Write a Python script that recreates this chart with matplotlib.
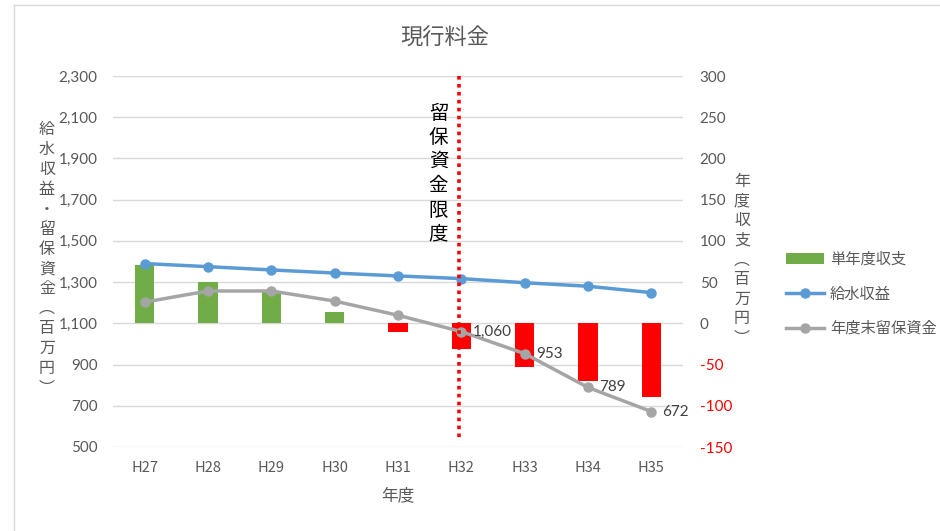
import matplotlib
matplotlib.use("Agg")
import matplotlib.pyplot as plt
from matplotlib.lines import Line2D
from matplotlib.patches import Patch

plt.rcParams['font.family'] = ['Lato', 'Noto Sans CJK JP', 'DejaVu Sans']

# ---- data ----
years = ["H27", "H28", "H29", "H30", "H31", "H32", "H33", "H34", "H35"]
balance = [71, 50, 38, 14, -10, -31, -53, -70, -89]          # 単年度収支 (right axis)
revenue = [1390, 1375, 1359, 1344, 1330, 1317, 1297, 1280, 1249]  # 給水収益
reserve = [1203, 1257, 1257, 1208, 1139, 1060, 953, 789, 672]     # 年度末留保資金
labelled = [5, 6, 7, 8]   # indices of reserve points with data labels
left_ticks = [500, 700, 900, 1100, 1300, 1500, 1700, 1900, 2100, 2300]
right_ticks = [-150, -100, -50, 0, 50, 100, 150, 200, 250, 300]
limit_idx = 5             # 留保資金限度 at H32

GRAY_TXT = "#595959"
GREEN = "#70AD47"
RED = "#FF0000"
BLUE = "#5B9BD5"
GRAY = "#A5A5A5"
CJK = ['Noto Sans CJK JP']

fig = plt.figure(figsize=(9.4, 5.31), dpi=100)
ax = fig.add_axes([113/940, 1-447/531, 570/940, 371/531])
ax2 = ax.twinx()

x = list(range(len(years)))

# bars + grid on right axis
ax2.set_ylim(-150, 300)
ax2.set_yticks(right_ticks)
ax2.yaxis.grid(True, color="#D9D9D9", lw=1)
ax2.set_axisbelow(True)
bar_colors = [GREEN if v >= 0 else RED for v in balance]
ax2.bar(x, balance, width=0.31, color=bar_colors, zorder=2)

# lines on left axis, above bars
ax.set_zorder(ax2.get_zorder() + 1)
ax.patch.set_visible(False)
ax.set_ylim(500, 2300)
ax.set_yticks(left_ticks)
ax.set_xlim(-0.5, len(years) - 0.5)
ax.plot(x, revenue, color=BLUE, lw=2.5, marker="o", ms=6.5, zorder=3)
ax.plot(x, reserve, color=GRAY, lw=2.5, marker="o", ms=6.5, zorder=3)

# limit line
ax.plot([limit_idx - 0.03, limit_idx - 0.03], [2300, 527], color=RED, lw=2.6,
        ls=(0, (1, 1.2)), zorder=4, clip_on=False)
ax.text(limit_idx - 0.36, 2170, "\n".join("留保資金限度"), ha="center", va="top",
        fontsize=14, color="black", linespacing=1.2, family=CJK)

for i in labelled:
    ax.annotate(f"{reserve[i]:,}", (x[i], reserve[i]), xytext=(8, 0),
                textcoords="offset points", ha="left", va="center",
                fontsize=11, color="#404040")

# ticks formatting
ax.set_xticks(x)
ax.set_xticklabels(years, color=GRAY_TXT, fontsize=10.5, family=CJK)
ax.set_yticklabels([f"{v:,}" for v in left_ticks], color=GRAY_TXT, fontsize=11)
ax.tick_params(axis="both", length=0)
ax.tick_params(axis="y", pad=11)
ax.tick_params(axis="x", pad=10)
ax2.set_yticklabels([str(v) for v in right_ticks], fontsize=11)
for lab, v in zip(ax2.get_yticklabels(), right_ticks):
    lab.set_color(RED if v < 0 else GRAY_TXT)
ax2.tick_params(axis="y", length=0, pad=12)
ax2.set_xticks(x)
ax2.tick_params(axis="x", length=0)

for a in (ax, ax2):
    for s in a.spines.values():
        s.set_visible(False)

# titles and axis labels
fig.text(445/940, 1-38/531, "現行料金", ha="center", va="center", fontsize=16,
         color=GRAY_TXT, family=CJK)
fig.text(398/940, 1-496/531, "年度", ha="center", va="center", fontsize=12,
         color=GRAY_TXT, family=CJK)
fig.text(47/940, 1-259/531, "\n".join("給水収益・留保資金︵百万円︶"), ha="center",
         va="center", fontsize=11.5, color=GRAY_TXT, linespacing=1.22,
         family=CJK)
fig.text(742/940, 1-260/531, "\n".join("年度収支︵百万円︶"), ha="center",
         va="center", fontsize=11.5, color=GRAY_TXT, linespacing=1.2,
         family=CJK)

# legend
handles = [Patch(facecolor=GREEN),
           Line2D([], [], color=BLUE, lw=2.5, marker="o", ms=6.5),
           Line2D([], [], color=GRAY, lw=2.5, marker="o", ms=6.5)]
fig.legend(handles, ["単年度収支", "給水収益", "年度末留保資金"],
           loc="center left", bbox_to_anchor=(772/940, 1-294/531),
           frameon=False, labelcolor=GRAY_TXT,
           handlelength=2.5, handleheight=0.75, labelspacing=1.15,
           handletextpad=0.4, prop={'family': CJK, 'size': 11})

# chart frame (left and top edges)
fig.add_artist(Line2D([14/940, 14/940], [0, 1-5/531], color="#D9D9D9", lw=1,
                      transform=fig.transFigure))
fig.add_artist(Line2D([14/940, 1], [1-5/531, 1-5/531], color="#D9D9D9", lw=1,
                      transform=fig.transFigure))

fig.savefig("out.png", dpi=100)
